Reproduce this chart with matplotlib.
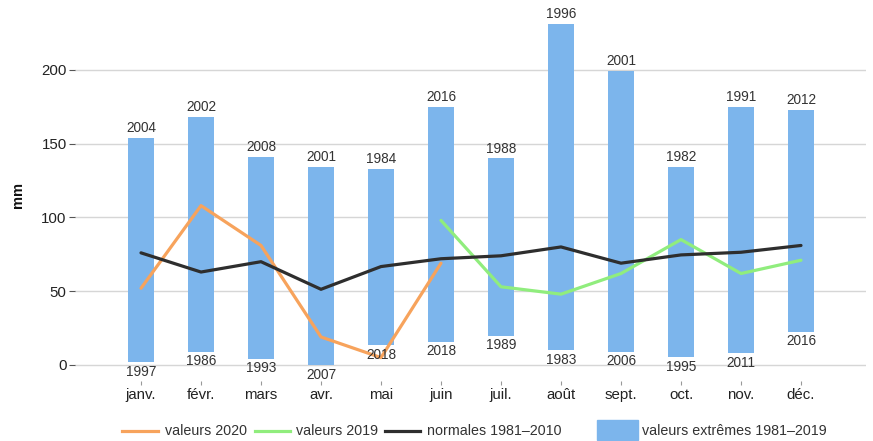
import matplotlib
matplotlib.use("Agg")
import matplotlib.pyplot as plt
from matplotlib.lines import Line2D
from matplotlib.patches import Rectangle

plt.rcParams['font.family'] = ['Liberation Sans', 'DejaVu Sans']

months = ["janv.", "févr.", "mars", "avr.", "mai", "juin", "juil.", "août", "sept.", "oct.", "nov.", "déc."]
max_vals = [154, 168, 141, 134, 133, 175, 140, 231, 199.5, 134.5, 175, 173]
min_vals = [2.2, 9, 4.3, 0, 13.6, 15.8, 19.9, 10.2, 9, 5.6, 8.3, 22.6]
max_years = ["2004", "2002", "2008", "2001", "1984", "2016", "1988", "1996", "2001", "1982", "1991", "2012"]
min_years = ["1997", "1986", "1993", "2007", "2018", "2018", "1989", "1983", "2006", "1995", "2011", "2016"]
vals_2020 = [52, 108, 81, 19, 5, 69]
vals_2019 = [98, 53, 48, 62, 85, 62, 71]   # juin .. déc.
normales = [76, 63, 70, 51.3, 66.7, 72, 74, 80, 69, 74.6, 76.4, 81]
yticks = [0, 50, 100, 150, 200]

W, H = 873, 441
fig = plt.figure(figsize=(W / 100, H / 100), dpi=100)
ax_l, ax_r, ax_b, ax_t = 75, 866, 381, 5
ax = fig.add_axes([ax_l / W, (H - ax_b) / H, (ax_r - ax_l) / W, (ax_b - ax_t) / H])

BLUE = '#7cb5ec'
ORANGE = '#f7a35c'
GREEN = '#90ed7d'
BLACK = '#2e2e2e'
TXT = '#333333'

x = list(range(len(months)))
heights = [mx - mn for mx, mn in zip(max_vals, min_vals)]
ax.bar(x, heights, bottom=min_vals, width=0.42, color=BLUE, zorder=2)

for i in x:
    ax.annotate(max_years[i], (i, max_vals[i]), xytext=(0, 2), textcoords='offset points',
                ha='center', va='bottom', fontsize=9.8, color=TXT, zorder=5)
    ax.annotate(min_years[i], (i, min_vals[i]), xytext=(0, -2), textcoords='offset points',
                ha='center', va='top', fontsize=9.8, color=TXT, zorder=5)

ax.plot(x[:len(vals_2020)], vals_2020, color=ORANGE, lw=2.3, zorder=3, solid_capstyle='round')
ax.plot(x[5:5 + len(vals_2019)], vals_2019, color=GREEN, lw=2.3, zorder=3, solid_capstyle='round')
ax.plot(x, normales, color=BLACK, lw=2.3, zorder=4, solid_capstyle='round')

ax.set_xlim((ax_l - 141) / 60, (ax_r - 141) / 60)
scale = 1.4757
ax.set_ylim(-(ax_b - 365) / scale, (365 - ax_t) / scale)
ax.set_yticks(yticks)
ax.set_xticks(x)
ax.set_xticklabels(months)
ax.grid(axis='y', color='#d6d6d6', lw=1, zorder=0)
for s in ax.spines.values():
    s.set_visible(False)
ax.tick_params(axis='y', length=4, width=0.8, color='#555555', labelsize=10.8, labelcolor='#222222', pad=2)
ax.tick_params(axis='x', length=3, width=0.8, color='#999999', labelsize=10.8, labelcolor='#222222', pad=2)
fig.text(18 / W, (H - 195) / H, 'mm', rotation=90, ha='center', va='center',
         fontsize=10.5, fontweight='bold', color='#111111')

# legend
ly = (H - 431) / H
def fx(px):
    return px / W
items = [(122, 158, ORANGE, 165, "valeurs 2020"),
         (255, 290, GREEN, 296, "valeurs 2019"),
         (385, 420, BLACK, 427, "normales 1981\u20132010")]
for x0, x1, c, tx, lab in items:
    fig.add_artist(Line2D([fx(x0), fx(x1)], [ly, ly], color=c, lw=2.3, transform=fig.transFigure))
    fig.text(fx(tx), ly, lab, fontsize=10.3, color=TXT, va='center', ha='left')
fig.add_artist(Rectangle((fx(597), (H - 440) / H), 41 / W, 20 / H, color=BLUE, transform=fig.transFigure))
fig.text(fx(642), ly, "valeurs extrêmes 1981\u20132019", fontsize=10.3, color=TXT, va='center', ha='left')

fig.savefig('out.png', dpi=100)
